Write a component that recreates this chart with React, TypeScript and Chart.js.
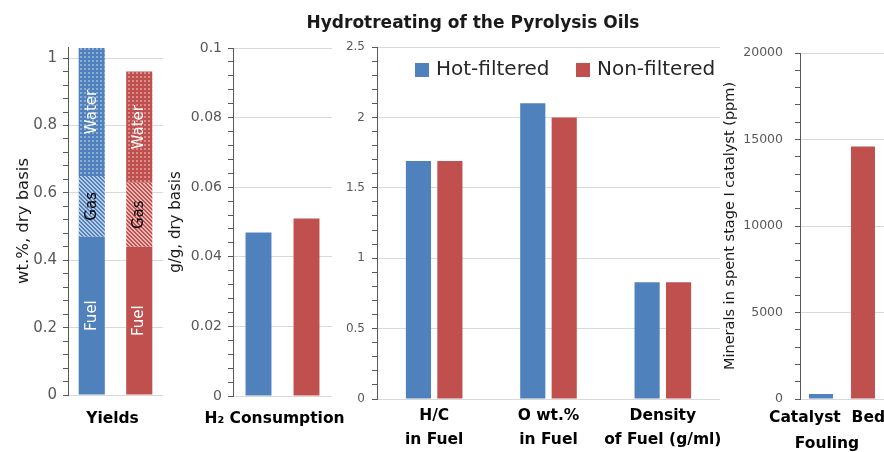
import React, { useEffect, useRef } from 'react';
import { Chart, registerables } from 'chart.js';
Chart.register(...registerables);

const FONT = '"DejaVu Sans", Verdana, sans-serif';
const BLUE = '#4F81BD';
const RED = '#C0504D';

// ---- data ----
const seriesNames = ['Hot-filtered', 'Non-filtered'];

const yieldsLabels = ['Yields'];
const yieldComponents = ['Fuel', 'Gas', 'Water'];
const yieldsHot = [0.47, 0.18, 0.38];
const yieldsNon = [0.44, 0.19, 0.33];

const h2Labels = ['H\u2082 Consumption'];
const h2Hot = [0.047];
const h2Non = [0.051];

const propLabels = [['H/C', 'in Fuel'], ['O wt.%', 'in Fuel'], ['Density', 'of Fuel (g/ml)']];
const propHot = [1.69, 2.1, 0.83];
const propNon = [1.69, 2.0, 0.83];

const foulLabels = [['Catalyst  Bed', 'Fouling']];
const foulHot = [290];
const foulNon = [14600];

const titleText = 'Hydrotreating of the Pyrolysis Oils';

function makePattern(base: string, kind: 'dots' | 'hatch') {
  const c = document.createElement('canvas');
  c.width = 4;
  c.height = 4;
  const g = c.getContext('2d')!;
  g.fillStyle = base;
  g.fillRect(0, 0, 4, 4);
  if (kind === 'dots') {
    g.fillStyle = 'rgba(255,255,255,0.35)';
    g.fillRect(0, 0, 2, 2);
  } else {
    g.fillStyle = 'rgba(255,255,255,0.6)';
    for (let i = 0; i < 4; i++) {
      g.fillRect(i, i, 1, 1);
      g.fillRect((i + 1) % 4, i, 1, 1);
    }
  }
  return g.createPattern(c, 'repeat')!;
}

type YOpts = {
  max: number; step: number; major: number; fontSize: number; pad: number; width: number;
  title?: string; titlePad?: number; titleSize?: number;
};

function yAxis(o: YOpts) {
  const isMajor = (v: number) => Math.abs(v / o.major - Math.round(v / o.major)) < 1e-6;
  return {
    min: 0,
    max: o.max,
    border: { display: true, color: '#595959', width: 1 },
    grid: {
      color: (ctx: any) => (ctx.tick && isMajor(ctx.tick.value) ? '#d9d9d9' : 'rgba(0,0,0,0)'),
      tickColor: '#595959',
      tickLength: 5,
      drawTicks: true,
      lineWidth: 1,
    },
    ticks: {
      stepSize: o.step,
      includeBounds: false,
      autoSkip: false,
      padding: o.pad,
      color: '#595959',
      font: { family: FONT, size: o.fontSize },
      callback: (v: any) => (isMajor(Number(v)) ? String(+Number(v).toFixed(6)) : ''),
    },
    title: o.title
      ? {
          display: true,
          text: o.title,
          color: '#1a1a1a',
          font: { family: FONT, size: o.titleSize || 15 },
          padding: { top: o.titlePad || 0, bottom: 0 },
        }
      : { display: false },
    afterFit: (s: any) => {
      s.width = o.width;
    },
  };
}

type XOpts = { height: number; pad: number; lineHeight: number; labelOffset?: number; stacked?: boolean };
function xAxis(o: XOpts) {
  return {
    type: 'category',
    stacked: !!o.stacked,
    grid: { display: false, drawTicks: false },
    border: { display: false },
    ticks: {
      padding: o.pad,
      color: '#000',
      font: { family: FONT, size: 15.5, weight: 'bold', lineHeight: o.lineHeight + 'px' },
      maxRotation: 0,
      minRotation: 0,
      autoSkip: false,
      labelOffset: o.labelOffset || 0,
    },
    afterFit: (s: any) => {
      s.height = o.height;
      s.paddingLeft = 0;
      s.paddingRight = 0;
    },
  };
}

const baseOptions = (padding: any) => ({
  animation: false,
  responsive: false,
  maintainAspectRatio: false,
  layout: { padding },
  plugins: { legend: { display: false }, tooltip: { enabled: false } },
});

const barLabelPlugin = {
  id: 'barLabels',
  afterDatasetsDraw(chart: any) {
    const { ctx, chartArea } = chart;
    ctx.save();
    chart.data.datasets.forEach((ds: any, i: number) => {
      const meta = chart.getDatasetMeta(i);
      const el = meta.data[0];
      if (!el) return;
      const { x, y, base } = el.getProps(['x', 'y', 'base'], true);
      const top = Math.max(Math.min(y, base), chartArea.top);
      const bot = Math.min(Math.max(y, base), chartArea.bottom);
      const cy = (top + bot) / 2;
      ctx.save();
      ctx.translate(x, cy);
      ctx.rotate(-Math.PI / 2);
      ctx.font = `15px ${FONT}`;
      ctx.textAlign = 'center';
      ctx.textBaseline = 'middle';
      ctx.fillStyle = ds.label === 'Gas' ? '#000' : '#fff';
      ctx.fillText(ds.label, 0, 0);
      ctx.restore();
    });
    ctx.restore();
  },
};

const legendPlugin = {
  id: 'customLegend',
  afterDraw(chart: any) {
    const { ctx, chartArea } = chart;
    const colors = [BLUE, RED];
    const xs = [38, 199];
    ctx.save();
    ctx.font = `20px ${FONT}`;
    ctx.textBaseline = 'middle';
    ctx.textAlign = 'left';
    seriesNames.forEach((name, i) => {
      const bx = chartArea.left + xs[i];
      const by = chartArea.top + 16;
      ctx.fillStyle = colors[i];
      ctx.fillRect(bx, by, 14, 14);
      ctx.fillStyle = '#262626';
      ctx.fillText(name, bx + 21, by + 7);
    });
    ctx.restore();
  },
};

export default function App() {
  const r1 = useRef<HTMLCanvasElement>(null);
  const r2 = useRef<HTMLCanvasElement>(null);
  const r3 = useRef<HTMLCanvasElement>(null);
  const r4 = useRef<HTMLCanvasElement>(null);

  useEffect(() => {
    const charts: Chart[] = [];
    const hotFills = [BLUE, makePattern(BLUE, 'hatch'), makePattern(BLUE, 'dots')];
    const nonFills = [RED, makePattern(RED, 'hatch'), makePattern(RED, 'dots')];

    // Panel 1: Yields
    charts.push(
      new Chart(r1.current!, {
        type: 'bar',
        data: {
          labels: yieldsLabels,
          datasets: [
            ...yieldComponents.map((c, i) => ({
              label: c, data: [yieldsHot[i]], stack: 'hot', backgroundColor: hotFills[i] as any,
              barPercentage: 0.55, categoryPercentage: 1.0,
            })),
            ...yieldComponents.map((c, i) => ({
              label: c, data: [yieldsNon[i]], stack: 'non', backgroundColor: nonFills[i] as any,
              barPercentage: 0.55, categoryPercentage: 1.0,
            })),
          ],
        },
        options: {
          ...baseOptions({ top: 47, right: 2, left: 0, bottom: 0 }),
          scales: {
            x: xAxis({ height: 57, pad: 12, lineHeight: 24, labelOffset: -3, stacked: true }),
            y: { ...yAxis({ max: 1.033, step: 0.04, major: 0.2, fontSize: 15, pad: 6, width: 68, title: 'wt.%, dry basis', titlePad: 14, titleSize: 16.5 }), stacked: true },
          },
        } as any,
        plugins: [barLabelPlugin],
      })
    );

    // Panel 2: H2 consumption
    charts.push(
      new Chart(r2.current!, {
        type: 'bar',
        data: {
          labels: h2Labels,
          datasets: [
            { label: seriesNames[0], data: h2Hot, backgroundColor: BLUE, barPercentage: 0.54, categoryPercentage: 0.97 },
            { label: seriesNames[1], data: h2Non, backgroundColor: RED, barPercentage: 0.54, categoryPercentage: 0.97 },
          ],
        },
        options: {
          ...baseOptions({ top: 48, right: 28, left: 0, bottom: 0 }),
          scales: {
            x: xAxis({ height: 56, pad: 11, lineHeight: 24, labelOffset: -8 }),
            y: yAxis({ max: 0.1, step: 0.004, major: 0.02, fontSize: 14, pad: 6, width: 68, title: 'g/g, dry basis', titlePad: 2, titleSize: 15 }),
          },
        } as any,
      })
    );

    // Panel 3: fuel properties
    charts.push(
      new Chart(r3.current!, {
        type: 'bar',
        data: {
          labels: propLabels,
          datasets: [
            { label: seriesNames[0], data: propHot, backgroundColor: BLUE, barPercentage: 0.8, categoryPercentage: 0.55 },
            { label: seriesNames[1], data: propNon, backgroundColor: RED, barPercentage: 0.8, categoryPercentage: 0.55 },
          ],
        },
        options: {
          ...baseOptions({ top: 47, right: 2, left: 0, bottom: 0 }),
          scales: {
            x: xAxis({ height: 53, pad: 5, lineHeight: 24 }),
            y: yAxis({ max: 2.5, step: 0.1, major: 0.5, fontSize: 12, pad: 7, width: 40 }),
          },
        } as any,
        plugins: [legendPlugin],
      })
    );

    // Panel 4: catalyst bed fouling
    charts.push(
      new Chart(r4.current!, {
        type: 'bar',
        data: {
          labels: foulLabels as any,
          datasets: [
            { label: seriesNames[0], data: foulHot, backgroundColor: BLUE, barPercentage: 0.57, categoryPercentage: 1.0 },
            { label: seriesNames[1], data: foulNon, backgroundColor: RED, barPercentage: 0.57, categoryPercentage: 1.0 },
          ],
        },
        options: {
          ...baseOptions({ top: 53, right: 0, left: 0, bottom: 0 }),
          scales: {
            x: xAxis({ height: 53, pad: 6, lineHeight: 26, labelOffset: -15 }),
            y: yAxis({ max: 20000, step: 1000, major: 5000, fontSize: 12.5, pad: 12, width: 78, title: 'Minerals in spent stage I catalyst (ppm)', titlePad: 0, titleSize: 14.5 }),
          },
        } as any,
      })
    );

    return () => charts.forEach((c) => c.destroy());
  }, []);

  const cv = (left: number, width: number) => ({
    position: 'absolute' as const, left, top: 0, width, height: 452, display: 'block',
  });

  return (
    <div style={{ position: 'fixed', left: 0, top: 0, width: 884, height: 452, background: '#fff', overflow: 'hidden', fontFamily: FONT }}>
      <canvas ref={r1} width={165} height={452} style={cv(0, 165)} />
      <canvas ref={r3} width={385} height={452} style={cv(337, 385)} />
      <canvas ref={r2} width={195} height={452} style={cv(165, 195)} />
      <canvas ref={r4} width={162} height={452} style={cv(722, 162)} />
      <div style={{ position: 'absolute', left: 273, width: 400, top: 12, textAlign: 'center', fontWeight: 700, fontSize: 17, lineHeight: '20px', color: '#1a1a1a', whiteSpace: 'nowrap' }}>
        {titleText}
      </div>
    </div>
  );
}
